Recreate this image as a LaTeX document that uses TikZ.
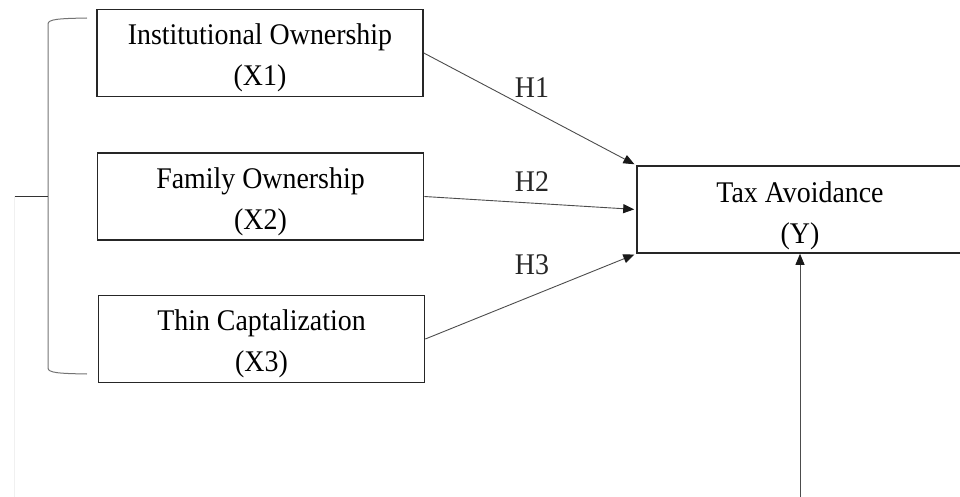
\documentclass[tikz,border=0pt]{standalone}
\usepackage{fontspec}
\setmainfont[FakeStretch=0.93]{Liberation Serif}
\usetikzlibrary{arrows.meta}

\begin{document}
\begin{tikzpicture}[x=1pt, y=-1pt,
	varbox/.style={draw=black!85, line width=1.6pt, minimum width=326pt, minimum height=87pt, inner sep=0pt, align=center, font=\fontsize{30}{41}\selectfont},
	hyp/.style={draw=black!70, line width=0.9pt, -{Triangle[length=11pt,width=9pt,color=black!90]}, shorten >=2pt},
	hlabel/.style={font=\fontsize{30}{34}\selectfont, text=black!85}]
	\useasboundingbox (0,0) rectangle (960,497);
	
	\node[varbox] (x1) at (260,53) {\rule{0pt}{31pt}Institutional Ownership\\(X1)};
	\node[varbox] (x2) at (260.5,196.5) {\rule{0pt}{31pt}Family Ownership\\(X2)};
	\node[varbox] (x3) at (261.5,339) {\rule{0pt}{31pt}Thin Captalization\\(X3)};
	\node[varbox] (y) at (800,209.5) {\rule{0pt}{33pt}Tax Avoidance\\(Y)};
	
	\draw[hyp] (x1.east) -- (y.north west);
	\draw[hyp] (x2.east) -- (y.west);
	\draw[hyp] (x3.east) -- (y.south west);
	\coordinate (ybot) at (800,497);
	\draw[hyp, shorten >=0pt] (ybot) -- (y.south);
	
	\node[hlabel] (h1) at (532,88) {H1};
	\node[hlabel] (h2) at (532,182) {H2};
	\node[hlabel] (h3) at (532,265) {H3};
	
	% bracket round the three variables
	\coordinate (bt) at (87,18);
	\coordinate (bb) at (87,374);
	\coordinate (bm) at (14,196);
	\draw[draw=black!55, line width=1pt] (bt) .. controls (60,18.5) and (48,19) .. (48,24) -- (48,368) .. controls (48,373) and (60,373.5) .. (bb);
	\draw[draw=black!80, line width=1pt] (bm) -- (48,196);
	\draw[draw=black!6, line width=0.8pt] (bm) -- (14,497);
\end{tikzpicture}
\end{document}
